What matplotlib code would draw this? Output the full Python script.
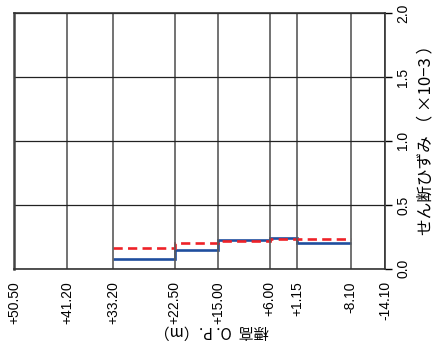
import matplotlib
matplotlib.use("Agg")
import matplotlib.pyplot as plt

plt.rcParams['font.family'] = ['Liberation Sans', 'Noto Sans CJK JP', 'DejaVu Sans']

# elevation boundaries (O.P. m) and shear strain per layer (x10^-3)
elev_ticks = [50.50, 41.20, 33.20, 22.50, 15.00, 6.00, 1.15, -8.10, -14.10]
elev_labels = ["+50.50", "+41.20", "+33.20", "+22.50", "+15.00",
               "+6.00", "+1.15", "-8.10", "-14.10"]
layer_edges = [33.20, 22.50, 15.00, 6.00, 1.15, -8.10]
strain_blue = [0.075, 0.15, 0.225, 0.24, 0.20]
strain_red = [0.165, 0.20, 0.22, 0.235, 0.235]
strain_ticks = [0.0, 0.5, 1.0, 1.5, 2.0]

fig = plt.figure(figsize=(4.4, 3.51), dpi=100)
ax = fig.add_axes([0.032, 0.234, 0.843, 0.729])

ax.stairs(strain_blue, layer_edges, color="#1f4e9e", lw=1.9, baseline=None)
ax.stairs(strain_red, layer_edges, color="#ee2228", lw=1.9, ls=(0, (3.5, 2)),
          baseline=None)

ax.set_xlim(50.50, -14.10)
ax.set_ylim(0, 2.0)
ax.set_xticks(elev_ticks)
ax.set_xticklabels(elev_labels, rotation=90, fontsize=10)
ax.set_yticks(strain_ticks)
ax.set_yticklabels(["%.1f" % v for v in strain_ticks], rotation=90,
                   fontsize=10, va="center")
ax.yaxis.tick_right()
ax.yaxis.set_label_position("right")
ax.tick_params(axis="x", length=0, pad=9)
ax.tick_params(axis="y", length=5, width=1, direction="out", pad=3)

ax.grid(True, axis="x", color="#5a5a5a", lw=1.2)
ax.grid(True, axis="y", color="#222222", lw=0.9)
for s in ax.spines.values():
    s.set_color("#333333")
    s.set_linewidth(1.2)
ax.spines["left"].set_linewidth(1.8)
ax.spines["left"].set_color("#444444")

cjk = ['Noto Sans CJK JP', 'DejaVu Sans']
ax.set_xlabel("標高  O. P.（m）", rotation=180, fontsize=11, family=cjk)
ax.xaxis.set_label_coords(0.534, -0.21)
ax.set_ylabel("せん断ひずみ （ ×10−3 ）", rotation=90, fontsize=12,
              labelpad=4, family=cjk)
ax.yaxis.set_label_coords(1.088, 0.52)

fig.savefig("out.png", dpi=100)
